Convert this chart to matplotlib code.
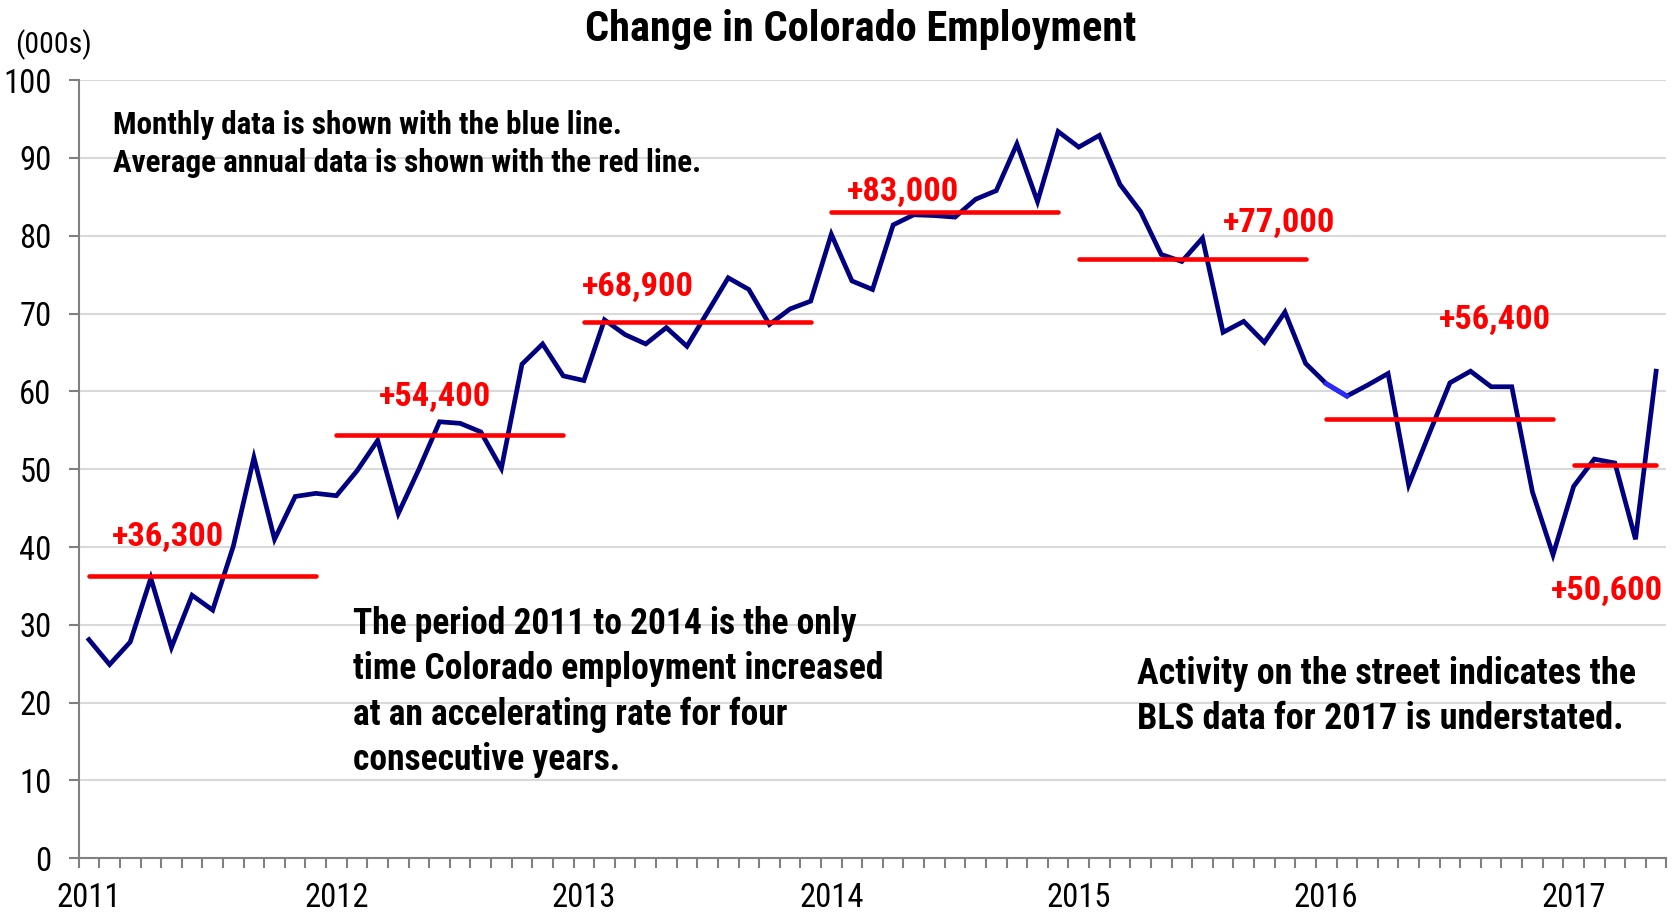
import numpy as np
import matplotlib
matplotlib.use('Agg')
from matplotlib import pyplot as plt

# monthly change in employment, thousands (Jan 2011 - May 2017)
monthly = [
    28.1, 24.9, 27.8, 36.0, 27.1, 33.8, 31.9, 40.1, 51.5, 41.0, 46.5, 46.9,   # 2011
    46.6, 49.8, 53.7, 44.3, 50.0, 56.1, 55.9, 54.8, 50.1, 63.5, 66.1, 62.0,   # 2012
    61.4, 69.2, 67.3, 66.1, 68.2, 65.8, 70.2, 74.6, 73.1, 68.6, 70.6, 71.6,   # 2013
    80.2, 74.2, 73.1, 81.4, 82.7, 82.6, 82.4, 84.7, 85.8, 91.8, 84.4, 93.4,   # 2014
    91.4, 92.9, 86.6, 83.1, 77.6, 76.7, 79.7, 67.6, 69.0, 66.3, 70.2, 63.6,   # 2015
    61.0, 59.4, 60.8, 62.3, 48.0, 54.6, 61.1, 62.6, 60.6, 60.6, 47.1, 39.0,   # 2016
    47.8, 51.3, 50.8, 41.0, 62.6,                                             # 2017
]
years = ['2011', '2012', '2013', '2014', '2015', '2016', '2017']
annual_avg = [36.3, 54.4, 68.9, 83.0, 77.0, 56.4, 50.6]
avg_labels = ['+36,300', '+54,400', '+68,900', '+83,000', '+77,000', '+56,400', '+50,600']

FONT = ['Roboto Condensed', 'Liberation Sans', 'DejaVu Sans']
plt.rcParams['font.family'] = FONT

x = np.arange(len(monthly))
n = len(monthly)

fig = plt.figure(figsize=(16.77, 9.13), dpi=100)
ax = fig.add_axes([0.0469, 0.0599, 0.9468, 0.8523])

# grid
ax.set_ylim(0, 100)
ax.set_xlim(-0.5, n - 0.5)
ax.set_yticks(range(0, 101, 10))
ax.yaxis.grid(True, color='#d9d9d9', linewidth=1.5)
ax.set_axisbelow(True)

# monthly line (small lighter patch in the original between Jan and Feb 2016)
ax.plot(x, monthly, color='#000080', linewidth=3.4, solid_joinstyle='miter', zorder=3)
ax.plot(x[60:62], monthly[60:62], color='#2b2bff', linewidth=3.4, zorder=3)

# annual average lines
for k, avg in enumerate(annual_avg):
    start = 12 * k
    end = min(12 * k + 11, n - 1)
    ax.hlines(avg, start, end, color='#ff0000', linewidth=3.3, capstyle='round', zorder=4)

# labels for annual averages
label_pos = [(3.85, 41.3), (16.8, 59.3), (26.6, 73.4), (39.5, 85.6),
             (57.7, 81.6), (68.2, 69.2), (73.6, 34.3)]
for (lx, ly), txt in zip(label_pos, avg_labels):
    ax.text(lx, ly, txt, color='#ff0000', fontsize=24.8, fontweight='bold',
            ha='center', va='center')

# annotations
ax.text(1.16, 91.8, 'Monthly data is shown with the blue line.\nAverage annual data is shown with the red line.',
        fontsize=22.4, fontweight='bold', ha='left', va='center', linespacing=1.3)
ax.text(12.82, 21.4, 'The period 2011 to 2014 is the only\ntime Colorado employment increased\n'
        'at an accelerating rate for four\nconsecutive years.',
        fontsize=25.6, fontweight='bold', ha='left', va='center', linespacing=1.33)
ax.text(50.82, 20.8, 'Activity on the street indicates the\nBLS data for 2017 is understated.',
        fontsize=26.0, fontweight='bold', ha='left', va='center', linespacing=1.3)

# axes styling
for side in ['top', 'right']:
    ax.spines[side].set_visible(False)
for side in ['left', 'bottom']:
    ax.spines[side].set_color('#808080')
    ax.spines[side].set_linewidth(1.5)

ax.set_xticks(np.arange(0, n, 12))
ax.set_xticklabels(years)
ax.set_xticks(np.arange(-0.5, n, 1), minor=True)
ax.tick_params(axis='x', which='major', length=0, pad=17, labelsize=23.5)
ax.tick_params(axis='x', which='minor', length=7, width=1.5, color='#808080', direction='out')
ax.tick_params(axis='y', which='major', length=7.5, width=1.5, color='#808080', labelsize=23.5, pad=12)

fig.text(0.0089, 0.951, '(000s)', fontsize=21.5, ha='left', va='center')
fig.text(0.5134, 0.968, 'Change in Colorado Employment', fontsize=30.5, fontweight='bold',
         ha='center', va='center')

fig.savefig('out.png', dpi=100)
